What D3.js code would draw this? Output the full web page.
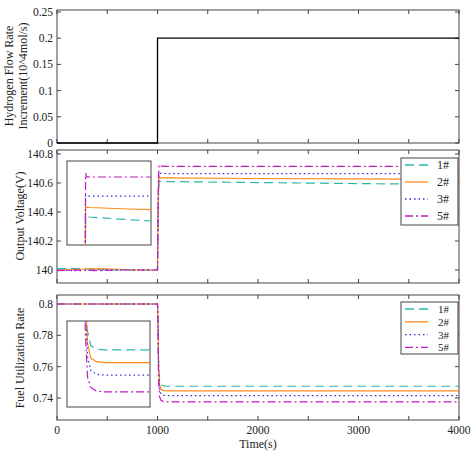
<!DOCTYPE html><html><head><meta charset="utf-8">
<script src="https://cdn.jsdelivr.net/npm/d3@7"></script>
<style>body{margin:0;background:#fff}svg text{font-family:"Liberation Serif","DejaVu Serif",serif !important;fill:#222}</style></head><body>
<svg id="c" width="474" height="454" font-family="Liberation Serif"></svg>
<script>
const series=["1#","2#","3#","5#"];
const colors=["#2ab7b0","#ff8a1e","#2a2ad0","#c21ac2"];
const dashes=["9,5",null,"1.5,3","8,3,2,3"];
const hTime=[0,1000,1000,4000];
const hVal=[0,0,0.2,0.2];
const tV=[0,200,400,600,800,1000,1008,1015,1030,1100,2000,3000,4000];
const vVals=[
 [140.01,140.01,140.005,140.0,140.0,140.0,140.45,140.61,140.612,140.61,140.603,140.596,140.59],
 [140.0,140.005,140.01,140.005,140.0,140.0,140.5,140.638,140.636,140.635,140.631,140.628,140.625],
 [140.0,139.995,140.0,140.0,140.0,140.0,140.55,140.667,140.666,140.665,140.665,140.664,140.664],
 [139.995,140.0,139.995,140.0,140.0,140.0,140.6,140.725,140.716,140.715,140.715,140.715,140.715]];
const tF=[0,1000,1005,1010,1020,1035,1060,1100,2000,3000,4000];
const fVals=[
 [0.8,0.8,0.79,0.765,0.752,0.7485,0.7477,0.7475,0.7475,0.7475,0.7475],
 [0.8,0.8,0.79,0.762,0.749,0.7455,0.7447,0.7445,0.7445,0.7445,0.7445],
 [0.8,0.8,0.79,0.758,0.746,0.7425,0.7417,0.7415,0.7415,0.7415,0.7415],
 [0.8,0.8,0.79,0.752,0.741,0.7385,0.7377,0.7375,0.7375,0.7375,0.7375]];
const xTicks=[0,1000,2000,3000,4000];
const hTicks=[0,0.05,0.1,0.15,0.2,0.25];
const vTicks=[140,140.2,140.4,140.6,140.8];
const fTicks=[0.74,0.76,0.78,0.8];

const svg=d3.select("#c");
const X0=57,X1=459;
const x=d3.scaleLinear().domain([0,4000]).range([X0,X1]);
function frame(y0,y1,ys,ticks,fmt){
  const g=svg.append("g");
  g.append("rect").attr("x",X0).attr("y",y0).attr("width",X1-X0).attr("height",y1-y0).attr("fill","none").attr("stroke","#444");
  d3.range(0,4001,500).forEach(t=>{g.append("line").attr("x1",x(t)).attr("x2",x(t)).attr("y1",y1).attr("y2",y1-4).attr("stroke","#444");
    g.append("line").attr("x1",x(t)).attr("x2",x(t)).attr("y1",y0).attr("y2",y0+4).attr("stroke","#444");});
  ticks.forEach(v=>{g.append("line").attr("x1",X0).attr("x2",X0+4).attr("y1",ys(v)).attr("y2",ys(v)).attr("stroke","#444");
    g.append("line").attr("x1",X1).attr("x2",X1-4).attr("y1",ys(v)).attr("y2",ys(v)).attr("stroke","#444");
    g.append("text").attr("x",X0-4).attr("y",ys(v)+4).attr("text-anchor","end").attr("font-size",11.5).text(fmt(v));});
}
const yH=d3.scaleLinear().domain([0,0.25]).range([143,12]);
frame(10,143,yH,hTicks,d3.format("~g"));
svg.append("path").attr("d",d3.line().x((d,i)=>x(hTime[i])).y(d=>yH(d))(hVal)).attr("fill","none").attr("stroke","#000").attr("stroke-width",1.3);
svg.append("text").attr("transform","translate(13,76)rotate(-90)").attr("text-anchor","middle").attr("font-size",12).text("Hydrogen Flow Rate");
svg.append("text").attr("transform","translate(27,76)rotate(-90)").attr("text-anchor","middle").attr("font-size",12).text("Increment(10^4mol/s)");
const yV=d3.scaleLinear().domain([140,140.8]).range([270,154]);
frame(150,283,yV,vTicks,d3.format("~g"));
function lines(g,xs,ys,ts,vals,w){
  vals.forEach((s,k)=>g.append("path").attr("d",d3.line().x((d,i)=>xs(ts[i])).y(d=>ys(d))(s)).attr("fill","none")
   .attr("stroke",colors[k]).attr("stroke-width",w).attr("stroke-dasharray",dashes[k]));
}
lines(svg.append("g"),x,yV,tV,vVals,1.2);
svg.append("text").attr("transform","translate(24,216)rotate(-90)").attr("text-anchor","middle").attr("font-size",12).text("Output Voltage(V)");
function inset(bx0,by0,bx1,by1,xd,yd,ts,vals){
  const xs=d3.scaleLinear().domain(xd).range([bx0,bx1]),ys=d3.scaleLinear().domain(yd).range([by1,by0]);
  const id="clip"+bx0+by0;
  svg.append("clipPath").attr("id",id).append("rect").attr("x",bx0).attr("y",by0).attr("width",bx1-bx0).attr("height",by1-by0);
  svg.append("rect").attr("x",bx0).attr("y",by0).attr("width",bx1-bx0).attr("height",by1-by0).attr("fill","#fff").attr("stroke","#444");
  lines(svg.append("g").attr("clip-path",`url(#${id})`),xs,ys,ts,vals,1.2);
}
inset(67,161,151,245,[592,2500],[140.5365,140.757],tV,vVals);
function legend(lx,ly,h,step,fs){
  const g=svg.append("g");
  g.append("rect").attr("x",lx).attr("y",ly).attr("width",57).attr("height",h).attr("fill","#fff").attr("stroke","#444");
  series.forEach((s,k)=>{const yy=ly+7+k*step;
    g.append("line").attr("x1",lx+4).attr("x2",lx+27).attr("y1",yy).attr("y2",yy).attr("stroke",colors[k]).attr("stroke-width",1.3).attr("stroke-dasharray",dashes[k]);
    g.append("text").attr("x",lx+48).attr("y",yy+4).attr("text-anchor","end").attr("font-size",fs).text(s);});
}
legend(401,158,67,17,12);
const yF=d3.scaleLinear().domain([0.74,0.8]).range([398,304]);
frame(295,420,yF,fTicks,d3.format("~g"));
xTicks.forEach(t=>svg.append("text").attr("x",x(t)).attr("y",434).attr("text-anchor","middle").attr("font-size",11.5).text(t));
svg.append("text").attr("x",x(2000)).attr("y",448).attr("text-anchor","middle").attr("font-size",12).text("Time(s)");
lines(svg.append("g"),x,yF,tF,fVals,1.2);
svg.append("text").attr("transform","translate(24,358)rotate(-90)").attr("text-anchor","middle").attr("font-size",12).text("Fuel Utilization Rate");
inset(67,321,150,407,[928,1300],[0.7339,0.7544],tF,fVals);
legend(401,302,52,12.8,11);
</script></body></html>
